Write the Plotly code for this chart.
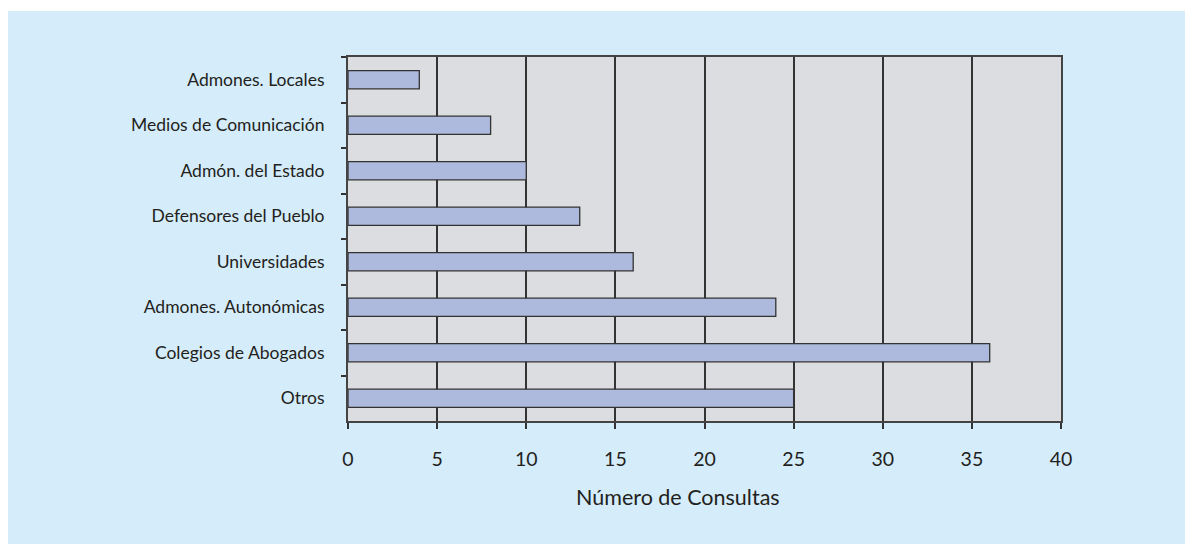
import plotly.graph_objects as go

categories = ["Admones. Locales", "Medios de Comunicación", "Admón. del Estado",
              "Defensores del Pueblo", "Universidades", "Admones. Autonómicas",
              "Colegios de Abogados", "Otros"]
values = [4, 8, 10, 13, 16, 24, 36, 25]
x_ticks = [0, 5, 10, 15, 20, 25, 30, 35, 40]
x_title = "Número de Consultas"

# page body has an 8px margin, so the figure starts at (8, 8)
W, H = 1185, 536
L, R, T, B = 340, 132, 49, 123
pw, ph = W - L - R, H - T - B

FONT = "Lato, 'Open Sans', sans-serif"
TXT = "#231f20"

fig = go.Figure(go.Bar(
    x=values, y=categories, orientation="h",
    marker=dict(color="#adbade", line=dict(color="#333333", width=1.3)),
    width=0.4,
))

fig.update_layout(
    width=W, height=H,
    margin=dict(l=L, r=R, t=T, b=B, pad=0),
    paper_bgcolor="#d5ecfa",
    plot_bgcolor="#dcdde0",
    showlegend=False,
    font=dict(family=FONT, color=TXT),
    shapes=[dict(type="rect", xref="paper", yref="paper",
                 x0=-(L + 5) / pw, x1=(W - L + 5) / pw,
                 y0=(ph + T - 3) / ph, y1=(ph + T + 5) / ph,
                 fillcolor="white", line=dict(width=0), layer="below")],
    annotations=[dict(text=x_title, xref="paper", yref="paper",
                      x=(670 - L) / pw, y=-(489 - T - ph) / ph,
                      xanchor="center", yanchor="middle", showarrow=False,
                      font=dict(size=21.5, family=FONT, color=TXT))],
)

fig.update_xaxes(
    range=[0, 40], tickvals=x_ticks, ticktext=[str(v) for v in x_ticks],
    showgrid=True, gridcolor="#333333", gridwidth=1.5,
    showline=True, linecolor="#444444", linewidth=2, mirror=True,
    ticks="outside", ticklen=6, tickwidth=1.5, tickcolor="#333333",
    tickfont=dict(size=19.5, family=FONT, color=TXT),
    ticklabelstandoff=14, zeroline=False,
)
fig.update_yaxes(
    categoryorder="array", categoryarray=categories, autorange="reversed",
    showline=True, linecolor="#444444", linewidth=2, mirror=True,
    ticks="outside", ticklen=5, tickwidth=1.5, tickcolor="#333333",
    tickson="boundaries", showgrid=False,
    tickfont=dict(size=17.5, family=FONT, color=TXT),
    ticklabelstandoff=18,
)

fig.write_html("out.html")
